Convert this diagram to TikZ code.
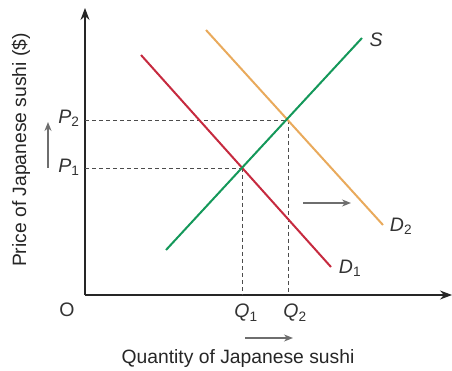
\documentclass[tikz,border=0pt]{standalone}
\usepackage{fontspec}
\setmainfont{Liberation Sans}
\usetikzlibrary{arrows.meta}
\definecolor{dred}{HTML}{C62A3F}
\definecolor{dorange}{HTML}{E9AA5C}
\definecolor{sgreen}{HTML}{14985A}
\definecolor{shiftgray}{HTML}{6E6E6E}
\begin{document}
\begin{tikzpicture}[x=1pt,y=-1pt,
  axis/.style={line width=1.1pt,draw=black!85,-{Stealth[length=12pt,width=9pt]}},
  curve/.style={line width=2pt},
  guide/.style={line width=0.8pt,draw=black!70,dash pattern=on 4pt off 3pt},
  shiftarrow/.style={line width=1.5pt,draw=shiftgray,-{Stealth[length=9pt,width=7pt]}},
  lab/.style={inner sep=0pt,font=\fontsize{19.5}{22}\selectfont\color{black!80}},
  big/.style={inner sep=0pt,font=\fontsize{19.3}{23}\selectfont\color{black!85}}]
\useasboundingbox (0,0) rectangle (452,371);
% axes
\coordinate (O) at (85,295);
\coordinate (ytop) at (85,8);
\coordinate (xend) at (452,295);
\draw[axis] (O) -- (ytop);
\draw[axis] (O) -- (xend);
% curve end points
\coordinate (s1) at (166,250);
\coordinate (s2) at (362,38);
\coordinate (d1a) at (141,55);
\coordinate (d1b) at (331,267);
\coordinate (d2a) at (206,30);
\coordinate (d2b) at (383,225);
\coordinate (E1) at (242,168);
\coordinate (E2) at (288,120);
\coordinate (p1) at (85,168);
\coordinate (p2) at (85,120);
\coordinate (q1) at (242,295);
\coordinate (q2) at (288,295);
% guides
\draw[guide] (p1) -- (E1);
\draw[guide] (p2) -- (E2);
\draw[guide] (E1) -- (q1);
\draw[guide] (E2) -- (q2);
% curves
\draw[curve,draw=dorange] (d2a) -- (d2b);
\draw[curve,draw=dred] (d1a) -- (d1b);
\draw[curve,draw=sgreen] (s1) -- (s2);
% labels
\node[lab] (Slab) at (376,40) {\itshape S};
\node[lab] (D2lab) at (401,226) {{\itshape D}\textsubscript{2}};
\node[lab] (D1lab) at (350,268) {{\itshape D}\textsubscript{1}};
\node[lab] (P2lab) at (69,118) {{\itshape P}\textsubscript{2}};
\node[lab] (P1lab) at (69,167) {{\itshape P}\textsubscript{1}};
\node[lab] (Q1lab) at (246,313) {{\itshape Q}\textsubscript{1}};
\node[lab] (Q2lab) at (295,313) {{\itshape Q}\textsubscript{2}};
\node[lab] (Olab) at (67,310) {O};
\node[big,anchor=base] (xlab) at (238,363) {Quantity of Japanese sushi};
\node[big,rotate=90] (ylab) at (21,150) {Price of Japanese sushi (\$)};
% shift arrows
\coordinate (va) at (48,168);
\coordinate (vb) at (48,122);
\coordinate (ha) at (303,203);
\coordinate (hb) at (351,203);
\coordinate (ba) at (245,338);
\coordinate (bb) at (293,338);
\draw[shiftarrow] (va) -- (vb);
\draw[shiftarrow] (ha) -- (hb);
\draw[shiftarrow] (ba) -- (bb);
\end{tikzpicture}
\end{document}
